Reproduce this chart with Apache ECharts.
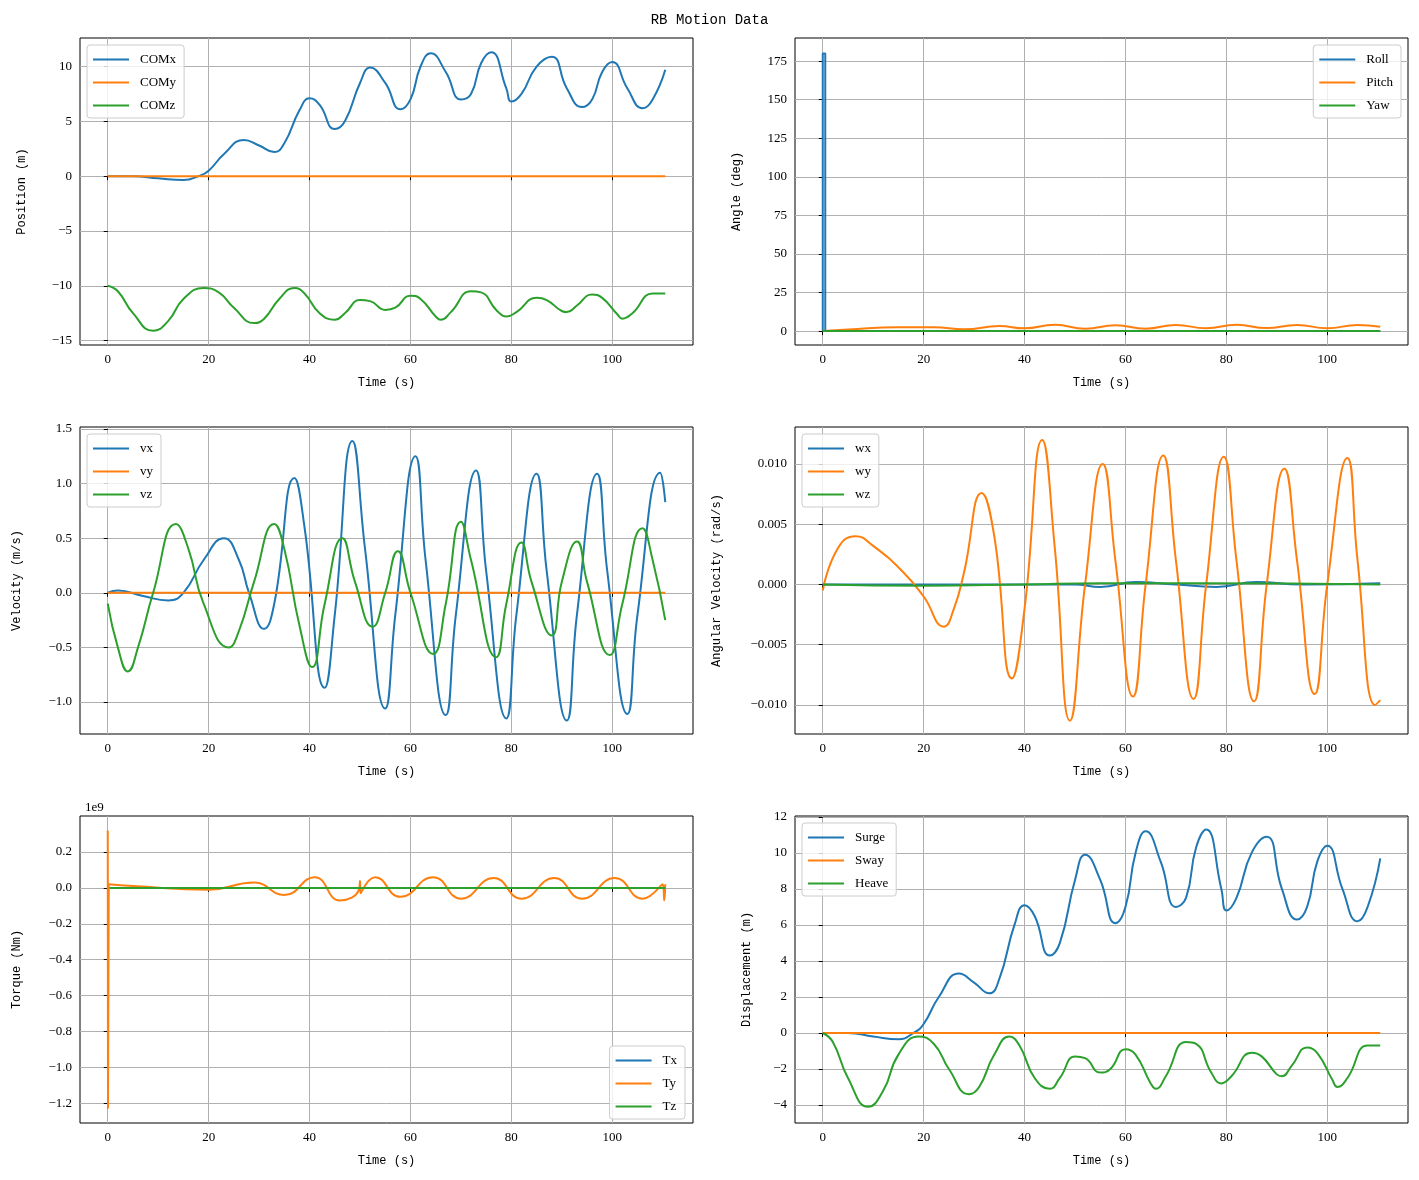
<!DOCTYPE html>
<html style="height: 100%">
<head>
<meta charset="utf-8">
</head>
<body style="height: 100%; margin: 0; background: #fff">
<div id="container" style="width: 1419px; height: 1180px;"></div>
<script type="text/javascript" src="https://cdn.jsdelivr.net/npm/echarts@6/dist/echarts.min.js"></script>
<script type="text/javascript">
// values: [time (s), value]
var comX = [[0,0],[5,0],[10,-0.2],[15,-0.35],[18,0],[20,0.5],[23,2],[27,3.3],[30,2.8],[33,2.2],[35,3],[38,6],[40,7.1],[42,6.5],[45,4.3],[47,5],[50,8.5],[52,9.9],[55,8.5],[58,6.1],[60,7],[62,10],[64,11.2],[67,9.5],[70,7],[72,7.5],[74,10.3],[76,11.3],[79,8],[80,6.8],[82,7.5],[85,10],[88,10.9],[91,8],[94,6.3],[96,7],[98,9.5],[100,10.4],[103,8],[106,6.2],[108,7],[110.5,9.7]];
var comY = [[0,0],[110.5,0]];
var comZ = [[0,-10],[2,-10.5],[5,-12.5],[9,-14.1],[12,-13.2],[15,-11.2],[19,-10.2],[22,-10.6],[25,-12],[29,-13.4],[31,-13],[34,-11.2],[37,-10.2],[39,-10.7],[42,-12.5],[45,-13.1],[47,-12.5],[50,-11.3],[52,-11.4],[55,-12.2],[57,-12],[60,-10.9],[62,-11.2],[65,-12.8],[66,-13.1],[68,-12.4],[72,-10.5],[74,-10.6],[77,-12.2],[79,-12.8],[81,-12.4],[85,-11.1],[87,-11.3],[90,-12.3],[91,-12.4],[93,-11.8],[96,-10.8],[98,-11.1],[101,-12.6],[102,-13],[104,-12.5],[108,-10.7],[110.5,-10.7]];
var roll = [[0,0],[0,180],[0.5,180],[0.5,0],[110.5,0]];
var pitch = [[0,0],[5,1],[15,2.5],[22,2.5],[28,1.2],[35,3.3],[40,1.8],[46,4.2],[52,1.5],[58,3.8],[64,1.6],[70,4.0],[76,1.8],[82,4.1],[88,2],[94,4],[100,1.8],[106,4],[110.5,2.8]];
var yaw = [[0,0],[110.5,0]];
var vx = [[0,0],[2,0.02],[7,-0.03],[12,-0.07],[15,0],[19,0.3],[23,0.5],[26,0.3],[28,0],[31,-0.33],[33,-0.1],[37,1.05],[39,0.6],[43,-0.87],[45,-0.2],[48.5,1.39],[51,0.4],[55,-1.06],[57,-0.2],[61,1.25],[63,0.3],[67,-1.12],[69,-0.2],[73,1.12],[75,0.2],[79,-1.15],[81,-0.2],[85,1.09],[87,0.2],[91,-1.17],[93,-0.2],[97,1.09],[99,0.2],[103,-1.11],[105,-0.2],[109.5,1.1],[110.5,0.83]];
var vy = [[0,0],[110.5,0]];
var vz = [[0,-0.1],[2,-0.5],[4,-0.72],[6,-0.5],[9,0],[13.5,0.63],[16,0.4],[19,-0.1],[24,-0.5],[26,-0.35],[29,0.1],[33,0.63],[35,0.4],[38,-0.3],[40.5,-0.68],[43,-0.1],[46.5,0.5],[49,0.1],[52.5,-0.31],[55,0],[57.5,0.38],[60,0],[64.5,-0.56],[67,-0.1],[70,0.65],[72,0.3],[77,-0.59],[79,-0.1],[82,0.46],[84,0.1],[88,-0.39],[90,0.1],[93,0.47],[95,0.1],[99.5,-0.57],[102,-0.1],[106,0.59],[108,0.3],[110.5,-0.25]];
var wx = [[0,0],[30,0],[40,0],[50,0],[55,-0.0002],[62,0.0002],[70,0],[78,-0.0002],[86,0.0002],[95,0],[110.5,0.0001]];
var wy = [[0,-0.0005],[3,0.003],[6.5,0.004],[10,0.0032],[16,0.001],[20,-0.001],[24,-0.0035],[26,-0.002],[28,0.001],[31.5,0.0076],[34,0.004],[37.5,-0.0078],[40,-0.002],[43.5,0.012],[46,0.003],[49,-0.0113],[52,0],[55.5,0.01],[58,0.002],[61.5,-0.0093],[64,0],[67.5,0.0107],[70,0.002],[73.5,-0.0095],[76,0],[79.5,0.0106],[82,0.002],[85.5,-0.0097],[88,0],[91.5,0.0096],[94,0.002],[97.5,-0.0091],[100,0],[104,0.0105],[106,0.002],[109.5,-0.01],[110.5,-0.0096]];
var wz = [[0,0],[20,-0.0001],[40,0],[55,0.0001],[75,0.0001],[110.5,0]];
var tx = [[0,0],[110.5,0]];
var tySpike = [[0,0.32],[0.05,-1.23],[0.2,0.02]];
var ty = [[0.2,0.02],[5,0.01],[20,-0.01],[29,0.03],[35,-0.04],[41,0.06],[46,-0.07],[49.8,-0.01],[50,0.04],[50.1,-0.03],[53,0.06],[58,-0.05],[64.5,0.06],[70,-0.06],[76.5,0.055],[82,-0.06],[88.5,0.055],[94,-0.06],[100.5,0.055],[106,-0.06],[110,0.02],[110.3,-0.07],[110.5,0.02]];
var tz = [[0,0],[110.5,0]];
var surge = comX;
var sway = [[0,0],[110.5,0]];
var heave = comZ.map(function (p) { return [p[0], p[1] + 10]; });

var xTicks = [0, 20, 40, 60, 80, 100];
var colors = ['#1f77b4', '#ff7f0e', '#2ca02c'];

var panels = [
    {yName: 'Position (m)', yMin: -15.4, yMax: 12.6, yTicks: [-15, -10, -5, 0, 5, 10], names: ['COMx', 'COMy', 'COMz'], data: [comX, comY, comZ], dec: 0, gap: 52},
    {yName: 'Angle (deg)', yMin: -9, yMax: 190, yTicks: [0, 25, 50, 75, 100, 125, 150, 175], names: ['Roll', 'Pitch', 'Yaw'], data: [roll, pitch, yaw], sharp: [true, false, false], dec: 0, gap: 52},
    {yName: 'Velocity (m/s)', yMin: -1.293, yMax: 1.518, yTicks: [-1, -0.5, 0, 0.5, 1, 1.5], names: ['vx', 'vy', 'vz'], data: [vx, vy, vz], dec: 1, gap: 57},
    {yName: 'Angular Velocity (rad/s)', yMin: -0.01241, yMax: 0.01307, yTicks: [-0.01, -0.005, 0, 0.005, 0.01], names: ['wx', 'wy', 'wz'], data: [wx, wy, wz], dec: 3, gap: 72},
    {yName: 'Torque (Nm)', yMin: -1.311, yMax: 0.401, yTicks: [-1.2, -1, -0.8, -0.6, -0.4, -0.2, 0, 0.2], names: ['Tx', 'Ty', 'Tz'], data: [tx, ty, tz], dec: 1, gap: 57},
    {yName: 'Displacement (m)', yMin: -5, yMax: 12.05, yTicks: [-4, -2, 0, 2, 4, 6, 8, 10, 12], names: ['Surge', 'Sway', 'Heave'], data: [surge, sway, heave], dec: 0, gap: 42}
];

var gridPos = [
    {left: 80, top: 38}, {left: 795, top: 38},
    {left: 80, top: 427}, {left: 795, top: 427},
    {left: 80, top: 816}, {left: 795, top: 816}
];
var legendPos = [
    {left: 87, top: 45}, {right: 18, top: 45},
    {left: 87, top: 434}, {left: 802, top: 434},
    {right: 734, top: 1046}, {left: 802, top: 823}
];

var dom = document.getElementById('container');
var myChart = echarts.init(dom);
var tickFont = {fontFamily: 'Liberation Serif', fontSize: 13, color: '#000'};
var nameFont = {fontFamily: 'Liberation Mono', fontSize: 12, color: '#000'};

var option = {
    animation: false,
    backgroundColor: '#fff',
    title: [{text: 'RB Motion Data', left: 'center', top: 8, textStyle: {fontFamily: 'Liberation Mono', fontSize: 14, fontWeight: 'normal', color: '#000'}},
            {text: '1e9', left: 80, top: 796, textStyle: {fontFamily: 'Liberation Serif', fontSize: 13, fontWeight: 'normal', color: '#000'}}],
    grid: [], xAxis: [], yAxis: [], legend: [], series: []
};

panels.forEach(function (p, i) {
    option.grid.push({left: gridPos[i].left, top: gridPos[i].top, width: 613, height: 307, show: true, borderColor: '#000', borderWidth: 1, containLabel: false});
    option.xAxis.push({
        gridIndex: i, type: 'value', min: -5.5, max: 116, name: 'Time (s)', nameLocation: 'middle', nameGap: 32, nameTextStyle: nameFont,
        axisLine: {show: false}, axisTick: {show: true, length: 4, lineStyle: {color: '#000'}, customValues: xTicks},
        axisLabel: Object.assign({customValues: xTicks, margin: 8}, tickFont),
        splitLine: {show: true, lineStyle: {color: '#b0b0b0', width: 1}}
    });
    option.yAxis.push({
        gridIndex: i, type: 'value', min: p.yMin, max: p.yMax, name: p.yName, nameLocation: 'middle', nameGap: p.gap, nameTextStyle: nameFont,
        axisLine: {show: false}, axisTick: {show: true, length: 4, lineStyle: {color: '#000'}, customValues: p.yTicks},
        axisLabel: Object.assign({customValues: p.yTicks, margin: 8, formatter: function (v) { return v.toFixed(p.dec).replace('-', '\u2212'); }}, tickFont),
        splitLine: {show: true, lineStyle: {color: '#b0b0b0', width: 1}}
    });
    option.legend.push(Object.assign({
        data: p.names, orient: 'vertical', itemWidth: 36, itemHeight: 2, itemGap: 10,
        icon: 'rect', borderColor: '#ccc', borderWidth: 1, borderRadius: 3, padding: [8, 8, 6, 6],
        backgroundColor: 'rgba(255,255,255,0.8)', textStyle: {fontFamily: 'Liberation Serif', fontSize: 13, color: '#000', padding: [0, 0, 0, 6]}
    }, legendPos[i]));
    p.names.forEach(function (n, k) {
        option.series.push({
            name: n, type: 'line', xAxisIndex: i, yAxisIndex: i, data: p.data[k], showSymbol: false,
            smooth: p.sharp && p.sharp[k] ? false : 0.5,
            lineStyle: {width: 2, color: colors[k]}, itemStyle: {color: colors[k]}
        });
    });
});

// the start-up spike of Ty, drawn unsmoothed
option.series.push({
    name: 'Ty', type: 'line', xAxisIndex: 4, yAxisIndex: 4, data: tySpike, showSymbol: false, smooth: false,
    lineStyle: {width: 2, color: colors[1]}, itemStyle: {color: colors[1]}
});

myChart.setOption(option);
</script>
</body>
</html>
